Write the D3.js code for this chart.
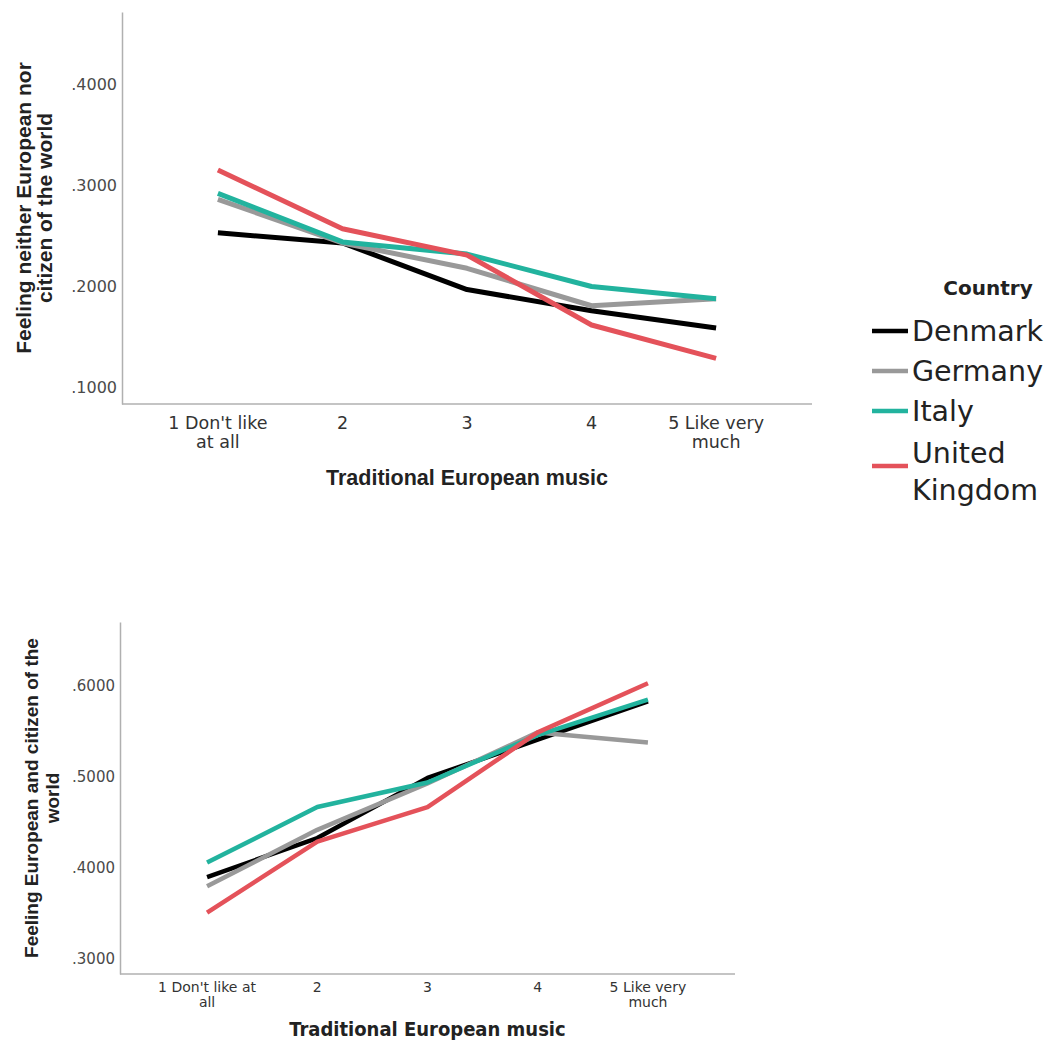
<!DOCTYPE html>
<html>
<head>
<meta charset="utf-8">
<script src="https://cdn.jsdelivr.net/npm/d3@7"></script>
<style>
  body { margin: 0; background: #ffffff; }
  svg { display: block; }
</style>
</head>
<body>
<div id="chart"></div>
<script>
// categories on the x axis (each label split in lines)
const categories = ['1', '2', '3', '4', '5'];
const topTickLines = [["1 Don't like", 'at all'], ['2'], ['3'], ['4'], ['5 Like very', 'much']];
const bottomTickLines = [["1 Don't like at", 'all'], ['2'], ['3'], ['4'], ['5 Like very', 'much']];

const countries = ['Denmark', 'Germany', 'Italy', 'United Kingdom'];
const colors = ['#000000', '#999999', '#22b39e', '#e4525a'];

// top panel: Feeling neither European nor citizen of the world
const topDenmark = [0.253, 0.243, 0.197, 0.176, 0.159];
const topGermany = [0.286, 0.243, 0.218, 0.181, 0.188];
const topItaly   = [0.292, 0.244, 0.232, 0.200, 0.188];
const topUK      = [0.315, 0.257, 0.231, 0.162, 0.129];
const topTicks = [0.1, 0.2, 0.3, 0.4];

// bottom panel: Feeling European and citizen of the world
const botDenmark = [0.390, 0.433, 0.499, 0.541, 0.583];
const botGermany = [0.380, 0.442, 0.493, 0.549, 0.538];
const botItaly   = [0.406, 0.467, 0.494, 0.546, 0.585];
const botUK      = [0.351, 0.429, 0.467, 0.549, 0.603];
const botTicks = [0.3, 0.4, 0.5, 0.6];

const width = 1055, height = 1048;
const svg = d3.select('#chart').append('svg')
    .attr('width', width)
    .attr('height', height);

function drawPanel(opts) {
    const x = d3.scalePoint()
        .domain(categories)
        .range([opts.left, opts.right])
        .padding(opts.pad);
    const y = d3.scaleLinear()
        .domain(opts.yDomain)
        .range([opts.bottom, opts.top]);

    const g = svg.append('g');

    // y axis
    const yAxis = g.append('g')
        .attr('transform', `translate(${opts.left},0)`)
        .call(d3.axisLeft(y).tickValues(opts.ticks).tickSize(0).tickPadding(5)
            .tickFormat(d => d3.format('.4f')(d).replace(/^0/, '')));
    yAxis.select('.domain').attr('stroke', '#b0b0b0').attr('stroke-width', 1.5);
    yAxis.selectAll('text')
        .attr('fill', '#4a4a4a')
        .style('font-family', '"DejaVu Sans", sans-serif')
        .style('font-size', opts.yTickSize + 'px');

    // x axis
    const xAxis = g.append('g')
        .attr('transform', `translate(0,${opts.bottom})`)
        .call(d3.axisBottom(x).tickSize(0).tickFormat(''));
    xAxis.select('.domain').attr('stroke', '#b0b0b0').attr('stroke-width', 1.5)
        .attr('d', `M${opts.left},0H${opts.right}`);

    // multi-line x tick labels
    categories.forEach((c, i) => {
        const t = g.append('text')
            .attr('x', x(c))
            .attr('y', opts.bottom + opts.tickOffset)
            .attr('text-anchor', 'middle')
            .attr('fill', '#333333')
            .style('font-family', '"DejaVu Sans", sans-serif')
            .style('font-size', opts.xTickSize + 'px');
        opts.tickLines[i].forEach((line, j) => {
            t.append('tspan')
                .attr('x', x(c))
                .attr('dy', j === 0 ? 0 : opts.xTickLead)
                .text(line);
        });
    });

    // x title
    g.append('text')
        .attr('x', (opts.left + opts.right) / 2)
        .attr('y', opts.xTitleY)
        .attr('text-anchor', 'middle')
        .attr('fill', '#222222')
        .style('font-family', opts.xTitleFont)
        .style('font-weight', 'bold')
        .style('font-size', opts.xTitleSize + 'px')
        .text('Traditional European music');

    // y title (two lines, rotated)
    const yt = g.append('text')
        .attr('transform', `translate(${opts.yTitleX},${(opts.top + opts.bottom) / 2}) rotate(-90)`)
        .attr('text-anchor', 'middle')
        .attr('fill', '#222222')
        .style('font-family', '"Liberation Sans", Arial, sans-serif')
        .style('font-weight', 'bold')
        .style('font-size', opts.yTitleSize + 'px');
    opts.yTitle.forEach((line, j) => {
        yt.append('tspan')
            .attr('x', 0)
            .attr('dy', j === 0 ? 0 : opts.yTitleLead)
            .text(line);
    });

    // lines
    const line = d3.line()
        .x((d, i) => x(categories[i]))
        .y(d => y(d));
    opts.series.forEach((s, k) => {
        g.append('path')
            .datum(s)
            .attr('fill', 'none')
            .attr('stroke', colors[k])
            .attr('stroke-width', opts.lineWidth)
            .attr('stroke-linejoin', 'round')
            .attr('d', line);
    });
}

drawPanel({
    left: 122, right: 812, top: 12, bottom: 404, pad: 0.77,
    yDomain: [0.0840, 0.4710],
    ticks: topTicks,
    tickLines: topTickLines,
    series: [topDenmark, topGermany, topItaly, topUK],
    yTickSize: 16, xTickSize: 17.5, xTickLead: 19, tickOffset: 25,
    xTitleY: 485, xTitleSize: 21.5,
    xTitleFont: '"Liberation Sans", Arial, sans-serif',
    yTitle: ['Feeling neither European nor', 'citizen of the world'],
    yTitleX: 31, yTitleSize: 21, yTitleLead: 21, lineWidth: 5
});

drawPanel({
    left: 120, right: 735, top: 622, bottom: 974, pad: 0.79,
    yDomain: [0.2836, 0.6703],
    ticks: botTicks,
    tickLines: bottomTickLines,
    series: [botDenmark, botGermany, botItaly, botUK],
    yTickSize: 15, xTickSize: 14, xTickLead: 15, tickOffset: 18,
    xTitleY: 1036, xTitleSize: 20,
    xTitleFont: '"DejaVu Sans Condensed", "DejaVu Sans", sans-serif',
    yTitle: ['Feeling European and citizen of the', 'world'],
    yTitleX: 38, yTitleSize: 19, yTitleLead: 21, lineWidth: 4.5
});

// legend
const legend = svg.append('g');
legend.append('text')
    .attr('x', 988)
    .attr('y', 295)
    .attr('text-anchor', 'middle')
    .attr('fill', '#222222')
    .style('font-family', '"DejaVu Sans", sans-serif')
    .style('font-weight', 'bold')
    .style('font-size', '20px')
    .text('Country');

const legendLabels = [['Denmark'], ['Germany'], ['Italy'], ['United', 'Kingdom']];
const legendY = [331, 371, 411, 466];
const legendTextY = [341, 381, 421, 463];
countries.forEach((c, i) => {
    legend.append('line')
        .attr('x1', 872).attr('x2', 908)
        .attr('y1', legendY[i]).attr('y2', legendY[i])
        .attr('stroke', colors[i])
        .attr('stroke-width', 4.5);
    const t = legend.append('text')
        .attr('x', 912)
        .attr('y', legendTextY[i])
        .attr('fill', '#222222')
        .style('font-family', '"DejaVu Sans", sans-serif')
        .style('font-size', '28.5px');
    legendLabels[i].forEach((l, j) => {
        t.append('tspan')
            .attr('x', 912)
            .attr('dy', j === 0 ? 0 : 37)
            .text(l);
    });
});
</script>
</body>
</html>
